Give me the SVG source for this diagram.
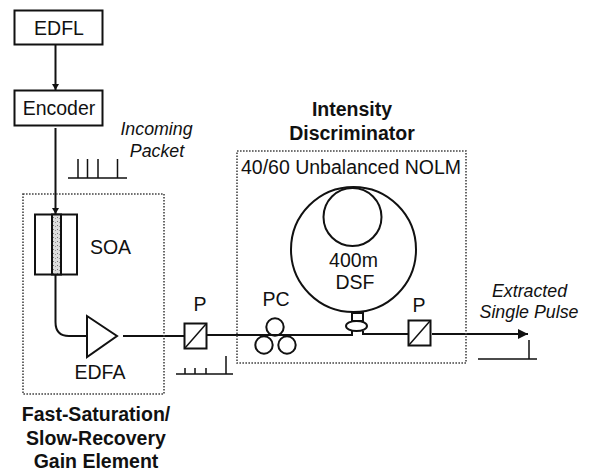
<svg xmlns="http://www.w3.org/2000/svg" width="591" height="471" viewBox="0 0 591 471">
<defs><marker id="a" markerWidth="10" markerHeight="10" refX="6" refY="3.5" orient="auto" markerUnits="userSpaceOnUse"><path d="M0 0L6 3.5L0 7Z" fill="#111"/></marker>
<marker id="b" markerWidth="12" markerHeight="12" refX="10" refY="5" orient="auto" markerUnits="userSpaceOnUse"><path d="M0 0L10 5L0 10Z" fill="#111"/></marker>
<pattern id="g" width="4" height="4" patternUnits="userSpaceOnUse"><rect width="4" height="4" fill="#ddd"/><rect x="1" y="1" width="1" height="1" fill="#777"/><rect x="3" y="2" width="1" height="1" fill="#999"/></pattern></defs>
<style>
text{font-family:"Liberation Sans",Arial,sans-serif;font-size:19.5px;fill:#111;text-anchor:middle}
.b{font-weight:bold}.i{font-style:italic;font-size:17.8px}
.s{fill:none;stroke:#111;stroke-width:2}
.w{fill:#fff;stroke:#111;stroke-width:2}
.t{fill:none;stroke:#111;stroke-width:1.5}
.d{fill:none;stroke:#444;stroke-width:1.6;stroke-dasharray:1.6 1.4}
</style>
<rect width="591" height="471" fill="#fff"/>
<g id="connectors">
<path class="s" d="M55.5 45V90" marker-end="url(#a)"/>
<path class="s" d="M55.5 128V214" marker-end="url(#a)"/>
<path class="s" d="M55.5 275V322Q55.5 336 69 336H87"/>
<path class="s" d="M123 336H184M207 335H352V331M363 331V334H408M432 334H528" marker-end="url(#b)"/>
</g>
<g id="edfl"><rect class="w" x="14.500" y="10.500" width="88" height="34"/><text x="59" y="35">EDFL</text></g>
<g id="encoder"><rect class="w" x="14.500" y="90.500" width="88" height="35"/><text x="59" y="115">Encoder</text></g>
<g id="incoming-packet"><text class="i" x="156.500" y="135">Incoming</text><text class="i" x="157" y="157">Packet</text><path class="t" d="M68 178H127M78 159V178M87.500 159V178M98 159V178M117.500 159V178"/></g>
<g id="soa"><rect class="w" x="35" y="214.500" width="42" height="60"/><rect x="52" y="214.500" width="9" height="60" fill="url(#g)" stroke="#111" stroke-width="2"/><text x="110.500" y="254">SOA</text></g>
<g id="edfa"><path class="w" d="M87 316L117 336L87 357Z"/><text x="100" y="379">EDFA</text></g>
<g id="gain-element"><rect class="d" x="23" y="194" width="141" height="200"/><text class="b" x="96" y="421">Fast-Saturation/</text><text class="b" x="96" y="445">Slow-Recovery</text><text class="b" x="96" y="468">Gain Element</text></g>
<g id="p1"><rect class="w" x="184.500" y="323.500" width="22" height="25"/><path class="t" d="M185 348L206 324"/><text x="200" y="311">P</text></g>
<g id="pulse1"><path class="t" d="M176 374H233M185 368V374M195 368V374M206 368V374M226 356V374"/></g>
<g id="pc"><circle class="s" cx="275" cy="327" r="8.700"/><circle class="s" cx="264" cy="345" r="8.700"/><circle class="s" cx="287" cy="345" r="8.700"/><text x="276" y="306">PC</text></g>
<g id="intensity"><text class="b" x="352" y="116">Intensity</text><text class="b" x="352" y="140">Discriminator</text><rect class="d" x="237" y="151" width="229" height="212"/><text x="351" y="174">40/60 Unbalanced NOLM</text></g>
<g id="nolm"><circle class="s" cx="353.500" cy="249.500" r="62.500"/><circle class="s" cx="352.500" cy="217" r="29"/><text x="353.500" y="267">400m</text><text x="355" y="289">DSF</text><rect class="w" x="352" y="313" width="11" height="8"/><ellipse class="w" cx="356.500" cy="326" rx="10.500" ry="5"/></g>
<g id="p2"><rect class="w" x="408.500" y="320.500" width="22" height="25"/><path class="t" d="M409 345L430 321"/><text x="419" y="312">P</text></g>
<g id="pulse2"><text class="i" x="529.500" y="297">Extracted</text><text class="i" x="529" y="318">Single Pulse</text><path class="t" d="M478 359H537M529 340V359"/></g>
</svg>
